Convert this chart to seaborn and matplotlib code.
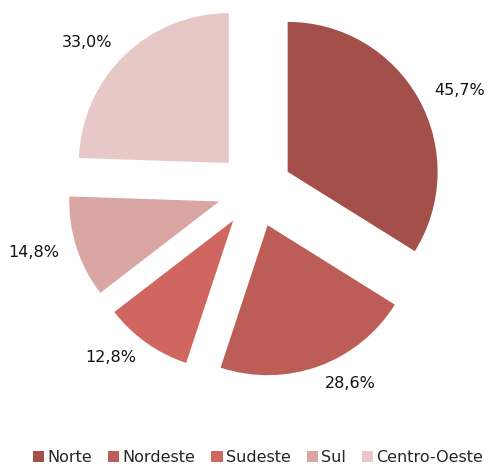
import matplotlib
matplotlib.use("Agg")
import matplotlib.pyplot as plt
import seaborn as sns

# ── Datos ──────────────────────────────────────────────────────────────────────
regioes = ["Norte", "Nordeste", "Sudeste", "Sul", "Centro-Oeste"]
valores = [45.7, 28.6, 12.8, 14.8, 33.0]
cores = ["#A34F4A", "#BD5D57", "#CF6660", "#D9A6A4", "#E8C8C7"]

sns.set_theme(style="white")
plt.rcParams["font.family"] = ["DejaVu Sans"]

rotulos = [f"{v:.1f}%".replace(".", ",") for v in valores]
paleta = sns.color_palette(cores)

fig = plt.figure(figsize=(4.88, 4.67), dpi=100)
ax = fig.add_axes([0.0768, 0.1274, 0.891, 0.9315])

wedges, texts = ax.pie(
    valores,
    labels=rotulos,
    colors=paleta,
    startangle=90,
    counterclock=False,
    explode=[0.25] * len(valores),
    labeldistance=1.12,
    wedgeprops=dict(linewidth=0),
    textprops=dict(fontsize=11.5, color="#111111"),
)
ax.set_xlim(-1.45, 1.45)
ax.set_ylim(-1.45, 1.45)
ax.set_aspect("equal")
ax.axis("off")

fig.legend(wedges, regioes, loc="center", bbox_to_anchor=(0.529, 0.021),
           ncol=5, frameon=False, fontsize=11.5,
           handlelength=0.7, handleheight=0.7, handletextpad=0.2,
           columnspacing=1.0)

fig.savefig("out.png", dpi=100)
